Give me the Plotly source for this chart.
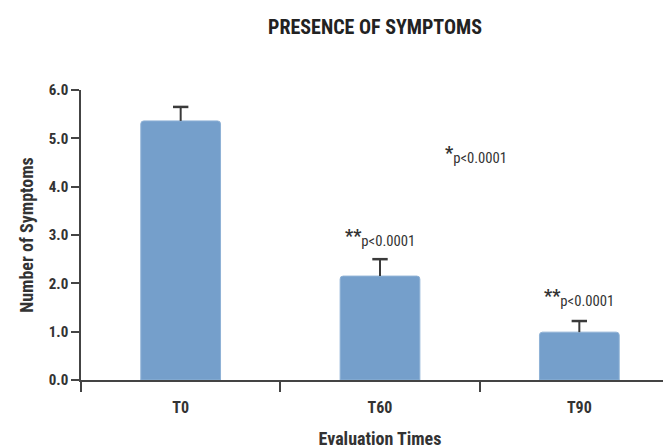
import plotly.graph_objects as go

categories = ["T0", "T60", "T90"]
means = [5.36, 2.15, 0.99]
errors = [0.29, 0.35, 0.23]
y_ticks = [0, 1, 2, 3, 4, 5, 6]
annot_texts = ["*", "**", "**"]
annot_x = [1.48, 1.0, 2.0]
annot_y = [4.66, 2.94, 1.70]

FONT = "Liberation Sans Narrow, Arial Narrow, Roboto Condensed, sans-serif"
tops = [m + e for m, e in zip(means, errors)]

fig = go.Figure()
fig.add_trace(go.Bar(
    x=categories, y=means, width=0.4,
    marker=dict(color="#759fcb", line=dict(color="#8fb2d6", width=1)),
))
# error stems (upper only)
stem_x, stem_y = [], []
for c, m, t in zip(categories, means, tops):
    stem_x += [c, c, None]
    stem_y += [m, t, None]
fig.add_trace(go.Scatter(x=stem_x, y=stem_y, mode="lines",
                         line=dict(color="#3a3a3a", width=2), hoverinfo="skip"))
fig.add_trace(go.Scatter(x=categories, y=tops, mode="markers",
                         marker=dict(symbol="line-ew", size=11, line=dict(color="#3a3a3a", width=2.5)),
                         hoverinfo="skip"))

for t, x, y in zip(annot_texts, annot_x, annot_y):
    fig.add_annotation(
        x=x, y=y, xref="x", yref="y", showarrow=False,
        text=f"<b><span style='font-size:18px'>{t}</span></b><sub>p&lt;0.0001</sub>",
        font=dict(family=FONT, size=21, color="#333333"),
    )

fig.update_layout(
    width=671, height=448,
    margin=dict(l=73, r=0, t=82, b=76, autoexpand=False),
    plot_bgcolor="white", paper_bgcolor="white",
    barcornerradius=3,
    showlegend=False,
    title=dict(text="<b>PRESENCE OF SYMPTOMS</b>", x=0.547, xanchor="center", y=0.958, yanchor="middle",
               font=dict(family=FONT, size=20, color="#222222")),
    font=dict(family=FONT, color="#333333"),
)
fig.update_xaxes(
    range=[-0.5, 2.5], showline=True, linecolor="#444444", linewidth=1.5,
    ticks="outside", tickson="boundaries", ticklen=10, tickwidth=1.5, tickcolor="#444444",
    tickfont=dict(family=FONT, size=16, color="#333333"), ticklabelstandoff=12,
    tickprefix="<b>", ticksuffix="</b>", automargin=False,
    title=dict(text="<b>Evaluation Times</b>", font=dict(family=FONT, size=18, color="#333333"), standoff=16),
    showgrid=False,
)
fig.update_yaxes(
    range=[0, 6], tickvals=y_ticks, ticktext=[f"<b>{v:.1f}</b>" for v in y_ticks],
    showline=True, linecolor="#444444", linewidth=1.5,
    ticks="outside", ticklen=8, tickwidth=1.5, tickcolor="#444444",
    tickfont=dict(family=FONT, size=15, color="#333333"), automargin=False,
    title=dict(text="<b>Number of Symptoms</b>", font=dict(family=FONT, size=18, color="#333333"), standoff=10),
    showgrid=False, zeroline=False,
)

fig.write_html("out.html")
